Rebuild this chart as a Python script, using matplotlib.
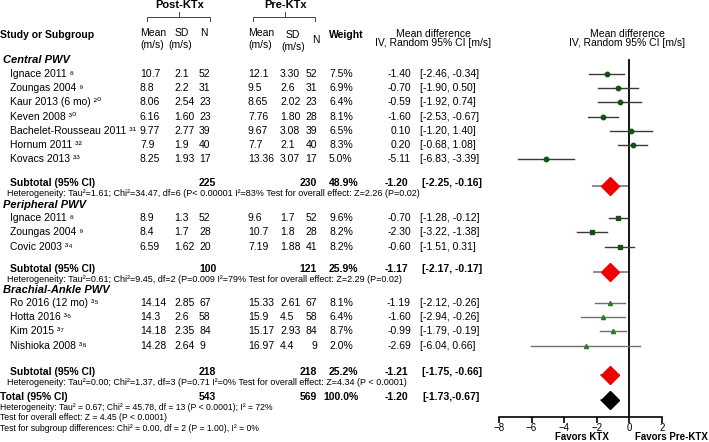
import matplotlib
matplotlib.use("Agg")
from matplotlib import pyplot as plt

plt.rcParams['font.family'] = ['Liberation Sans', 'DejaVu Sans']

# ---- data ----
groups = ['Central PWV', 'Peripheral PWV', 'Brachial-Ankle PWV']

central_names = ['Ignace 2011 \u2078', 'Zoungas 2004 \u2079', 'Kaur 2013 (6 mo) \u00b2\u2070',
                 'Keven 2008 \u00b3\u2070', 'Bachelet-Rousseau 2011 \u00b3\u00b9',
                 'Hornum 2011 \u00b3\u00b2', 'Kovacs 2013 \u00b3\u00b3']
central_post = [('10.7', '2.1', '52'), ('8.8', '2.2', '31'), ('8.06', '2.54', '23'),
                ('6.16', '1.60', '23'), ('9.77', '2.77', '39'), ('7.9', '1.9', '40'),
                ('8.25', '1.93', '17')]
central_pre = [('12.1', '3.30', '52'), ('9.5', '2.6', '31'), ('8.65', '2.02', '23'),
               ('7.76', '1.80', '28'), ('9.67', '3.08', '39'), ('7.7', '2.1', '40'),
               ('13.36', '3.07', '17')]
central_weight = ['7.5%', '6.9%', '6.4%', '8.1%', '6.5%', '8.3%', '5.0%']
central_md = [-1.40, -0.70, -0.59, -1.60, 0.10, 0.20, -5.11]
central_lo = [-2.46, -1.90, -1.92, -2.53, -1.20, -0.68, -6.83]
central_hi = [-0.34, 0.50, 0.74, -0.67, 1.40, 1.08, -3.39]

periph_names = ['Ignace 2011 \u2078', 'Zoungas 2004 \u2079', 'Covic 2003 \u00b3\u2074']
periph_post = [('8.9', '1.3', '52'), ('8.4', '1.7', '28'), ('6.59', '1.62', '20')]
periph_pre = [('9.6', '1.7', '52'), ('10.7', '1.8', '28'), ('7.19', '1.88', '41')]
periph_weight = ['9.6%', '8.2%', '8.2%']
periph_md = [-0.70, -2.30, -0.60]
periph_lo = [-1.28, -3.22, -1.51]
periph_hi = [-0.12, -1.38, 0.31]

brach_names = ['Ro 2016 (12 mo) \u00b3\u2075', 'Hotta 2016 \u00b3\u2076', 'Kim 2015 \u00b3\u2077',
               'Nishioka 2008 \u00b3\u2078']
brach_post = [('14.14', '2.85', '67'), ('14.3', '2.6', '58'), ('14.18', '2.35', '84'),
              ('14.28', '2.64', '9')]
brach_pre = [('15.33', '2.61', '67'), ('15.9', '4.5', '58'), ('15.17', '2.93', '84'),
             ('16.97', '4.4', '9')]
brach_weight = ['8.1%', '6.4%', '8.7%', '2.0%']
brach_md = [-1.19, -1.60, -0.99, -2.69]
brach_lo = [-2.12, -2.94, -1.79, -6.04]
brach_hi = [-0.26, -0.26, -0.19, 0.66]

sub_n_post = ['225', '100', '218']
sub_n_pre = ['230', '121', '218']
sub_weight = ['48.9%', '25.9%', '25.2%']
sub_md = [-1.20, -1.17, -1.21]
sub_lo = [-2.25, -2.17, -1.75]
sub_hi = [-0.16, -0.17, -0.66]
sub_het = [
    'Heterogeneity: Tau\u00b2=1.61; Chi\u00b2=34.47, df=6 (P< 0.00001 I\u00b2=83% Test for overall effect: Z=2.26 (P=0.02)',
    'Heterogeneity: Tau\u00b2=0.61; Chi\u00b2=9.45, df=2 (P=0.009 I\u00b2=79% Test for overall effect: Z=2.29 (P=0.02)',
    'Heterogeneity: Tau\u00b2=0.00; Chi\u00b2=1.37, df=3 (P=0.71 I\u00b2=0% Test for overall effect: Z=4.34 (P < 0.0001)',
]

total_n_post, total_n_pre, total_weight = '543', '569', '100.0%'
total_md, total_lo, total_hi = -1.20, -1.73, -0.67
total_notes = [
    'Heterogeneity: Tau\u00b2 = 0.67; Chi\u00b2 = 45.78, df = 13 (P < 0.0001); I\u00b2 = 72%',
    'Test for overall effect: Z = 4.45 (P < 0.0001)',
    'Test for subgroup differences: Chi\u00b2 = 0.00, df = 2 (P = 1.00), I\u00b2 = 0%',
]

xticks = [-8, -6, -4, -2, 0, 2]

study_sets = [
    (central_names, central_post, central_pre, central_weight, central_md, central_lo, central_hi),
    (periph_names, periph_post, periph_pre, periph_weight, periph_md, periph_lo, periph_hi),
    (brach_names, brach_post, brach_pre, brach_weight, brach_md, brach_lo, brach_hi),
]
markers = ['o', 's', '^']
marker_cols = ['#145214', '#145214', '#2c7a2c']
line_cols = ['#3a3a3a', '#3a3a3a', '#707070']

# ---- layout (pixel rows) ----
W, H = 709, 442
fig = plt.figure(figsize=(W / 100, H / 100), dpi=100)
ax = fig.add_axes([0, 0, 1, 1])
ax.set_xlim(0, W)
ax.set_ylim(H, 0)
ax.axis('off')

AX_L, AX_R, AX_B = 499, 662, 417
fp = fig.add_axes([AX_L / W, (H - AX_B) / H, (AX_R - AX_L) / W, AX_B / H])
fp.set_xlim(-8, 2)
fp.set_ylim(AX_B, 0)
fp.patch.set_alpha(0)
for s in ['top', 'right', 'left']:
    fp.spines[s].set_visible(False)
fp.spines['bottom'].set_linewidth(1.2)
fp.set_yticks([])
fp.set_xticks(xticks)
fp.tick_params(axis='x', length=4, width=1.2, labelsize=7, pad=0.5, color='black')

FS = 7.5
X_NAME, X_PM, X_PSD, X_PN = 10, 140, 174, 199
X_QM, X_QSD, X_QN, X_W = 248, 280, 317, 329
X_MD, X_CI = 411, 420


def txt(x, y, s, **kw):
    kw.setdefault('fontsize', FS)
    kw.setdefault('va', 'center')
    ax.text(x, y, s, **kw)


# headers
txt(180, 5, 'Post-KTx', ha='center', fontweight='bold', fontsize=8)
txt(286, 5, 'Pre-KTx', ha='center', fontweight='bold', fontsize=8)
for l, r, c in [(147, 210, 179), (253, 315, 285)]:
    ax.plot([l, l, r, r], [21, 17, 17, 21], color='#444', lw=0.7)
    ax.plot([c, c], [17, 12], color='#444', lw=0.7)
txt(0, 35, 'Study or Subgroup', fontweight='bold')
txt(X_PM, 33, 'Mean')
txt(X_PM, 45, '(m/s)')
txt(X_PSD + 1, 33, 'SD')
txt(168, 45, '(m/s)')
txt(X_PN + 1, 33, 'N')
txt(X_QM, 33, 'Mean')
txt(X_QM, 45, '(m/s)')
txt(286, 35, 'SD')
txt(281, 47, '(m/s)')
txt(312, 40, 'N')
txt(X_W, 35, 'Weight', fontweight='bold')
for cx in (433, 627):
    txt(cx, 34, 'Mean difference', ha='center')
    txt(cx, 43, 'IV, Random 95% CI [m/s]', ha='center')

# body
y = 60
for g in range(3):
    names, post, pre, wts, md, lo, hi = study_sets[g]
    txt(3, y, groups[g], fontweight='bold', style='italic', fontsize=8)
    y += 14 if g == 0 else 13
    for i in range(len(names)):
        txt(X_NAME, y, names[i])
        txt(X_PM, y, post[i][0])
        txt(X_PSD, y, post[i][1])
        txt(X_PN, y, post[i][2])
        txt(X_QM, y, pre[i][0])
        txt(X_QSD, y, pre[i][1])
        txt(X_QN, y, pre[i][2], ha='right')
        txt(X_W, y, wts[i])
        txt(X_MD, y, f'{md[i]:.2f}', ha='right')
        txt(X_CI, y, f'[{lo[i]:.2f}, {hi[i]:.2f}]')
        fp.plot([lo[i], hi[i]], [y, y], color=line_cols[g], lw=1.0, zorder=2)
        fp.plot(md[i], y, marker=markers[g], color=marker_cols[g],
                ms=3.2 if g < 2 else 3.0, zorder=3, clip_on=False)
        if i < len(names) - 1:
            y += 14.2
    y += [24, 22, 26][g]
    txt(X_NAME, y, 'Subtotal (95% CI)', fontweight='bold')
    txt(X_PN, y, sub_n_post[g], fontweight='bold')
    txt(X_QN, y, sub_n_pre[g], fontweight='bold', ha='right')
    txt(X_W, y, sub_weight[g], fontweight='bold')
    txt(408, y, f'{sub_md[g]:.2f}', fontweight='bold', ha='right')
    txt(422, y, f'[{sub_lo[g]:.2f}, {sub_hi[g]:.2f}]', fontweight='bold')
    fp.plot([sub_lo[g], sub_hi[g]], [y + 3, y + 3], color='#808080', lw=1.3, zorder=2)
    fp.plot(sub_md[g], y + 3, marker='D', color='#ee0000', ms=9, mec='#ee0000', zorder=3)
    y += 10.5
    txt(7, y, sub_het[g], fontsize=6.5)
    y += 11.5 if g == 0 else 11

y += 3.5
txt(0, y, 'Total (95% CI)', fontweight='bold')
txt(X_PN, y, total_n_post, fontweight='bold')
txt(X_QN, y, total_n_pre, fontweight='bold', ha='right')
txt(X_W - 6, y, total_weight, fontweight='bold')
txt(408, y, f'{total_md:.2f}', fontweight='bold', ha='right')
txt(422, y, f'[{total_lo:.2f},{total_hi:.2f}]', fontweight='bold')
fp.plot([total_lo, total_hi], [y + 3, y + 3], color='#808080', lw=1.3, zorder=2)
fp.plot(total_md, y + 3, marker='D', color='black', ms=9, zorder=3)
for k, note in enumerate(total_notes):
    txt(0, y + 10.5 * (k + 1), note, fontsize=6.2)

# zero line
fp.plot([0, 0], [60, AX_B], color='black', lw=1.3, zorder=1)

txt(582, 437.5, 'Favors KTX', ha='center', fontweight='bold', fontsize=7)
txt(671, 437.5, 'Favors Pre-KTX', ha='center', fontweight='bold', fontsize=7)

fig.savefig('out.png', dpi=100)
